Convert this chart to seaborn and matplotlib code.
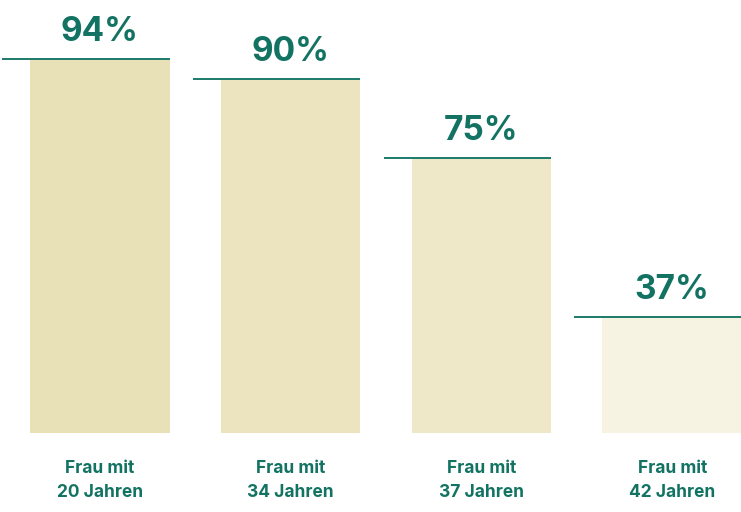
import matplotlib
matplotlib.use("Agg")
import matplotlib.pyplot as plt
import seaborn as sns
import pandas as pd

# --- data ---
categories = ["Frau mit\n20 Jahren", "Frau mit\n34 Jahren", "Frau mit\n37 Jahren", "Frau mit\n42 Jahren"]
percent_labels = ["94%", "90%", "75%", "37%"]
bar_heights = [94, 89, 69, 29.2]  # visual bar heights as drawn in the reference
bar_colors = ["#E8E1B8", "#EBE4BF", "#EEE8C9", "#F6F3E2"]

TEXT_COLOR = "#137363"
LINE_COLOR = "#1B7A69"

sns.set_theme(style="white")
plt.rcParams["font.family"] = ["Inter", "DejaVu Sans"]

df = pd.DataFrame({"cat": categories, "h": bar_heights})

fig = plt.figure(figsize=(7.41, 5.12), dpi=100)
ax = fig.add_axes([0, (512 - 433) / 512, 1, 433 / 512])

sns.barplot(data=df, x="cat", y="h", hue="cat", palette=bar_colors,
            width=0.731, legend=False, ax=ax, saturation=1, linewidth=0)

ax.set_xlim(-0.523, 3.3606)
ax.set_ylim(0, 108.8)

ext = 0.1468  # line extends left of the bar
for patch, lab in zip(ax.patches, percent_labels):
    x0 = patch.get_x()
    w = patch.get_width()
    h = patch.get_height()
    ax.plot([x0 - ext, x0 + w], [h, h], color=LINE_COLOR, lw=1.4,
            solid_capstyle="butt", zorder=3, clip_on=False)
    ax.annotate(lab, (x0 + w / 2, h), xytext=(0, 13), textcoords="offset points",
                ha="center", va="baseline", fontsize=24, fontweight="bold",
                color=TEXT_COLOR, annotation_clip=False)

ax.set_xlabel("")
ax.set_ylabel("")
ax.set_yticks([])
ax.tick_params(axis="x", length=0, pad=19.5)
for t in ax.get_xticklabels():
    t.set_fontsize(12.5)
    t.set_fontweight("bold")
    t.set_color(TEXT_COLOR)
    t.set_linespacing(1.5)
for s in ax.spines.values():
    s.set_visible(False)

fig.savefig("out.png", dpi=100, facecolor="white")
